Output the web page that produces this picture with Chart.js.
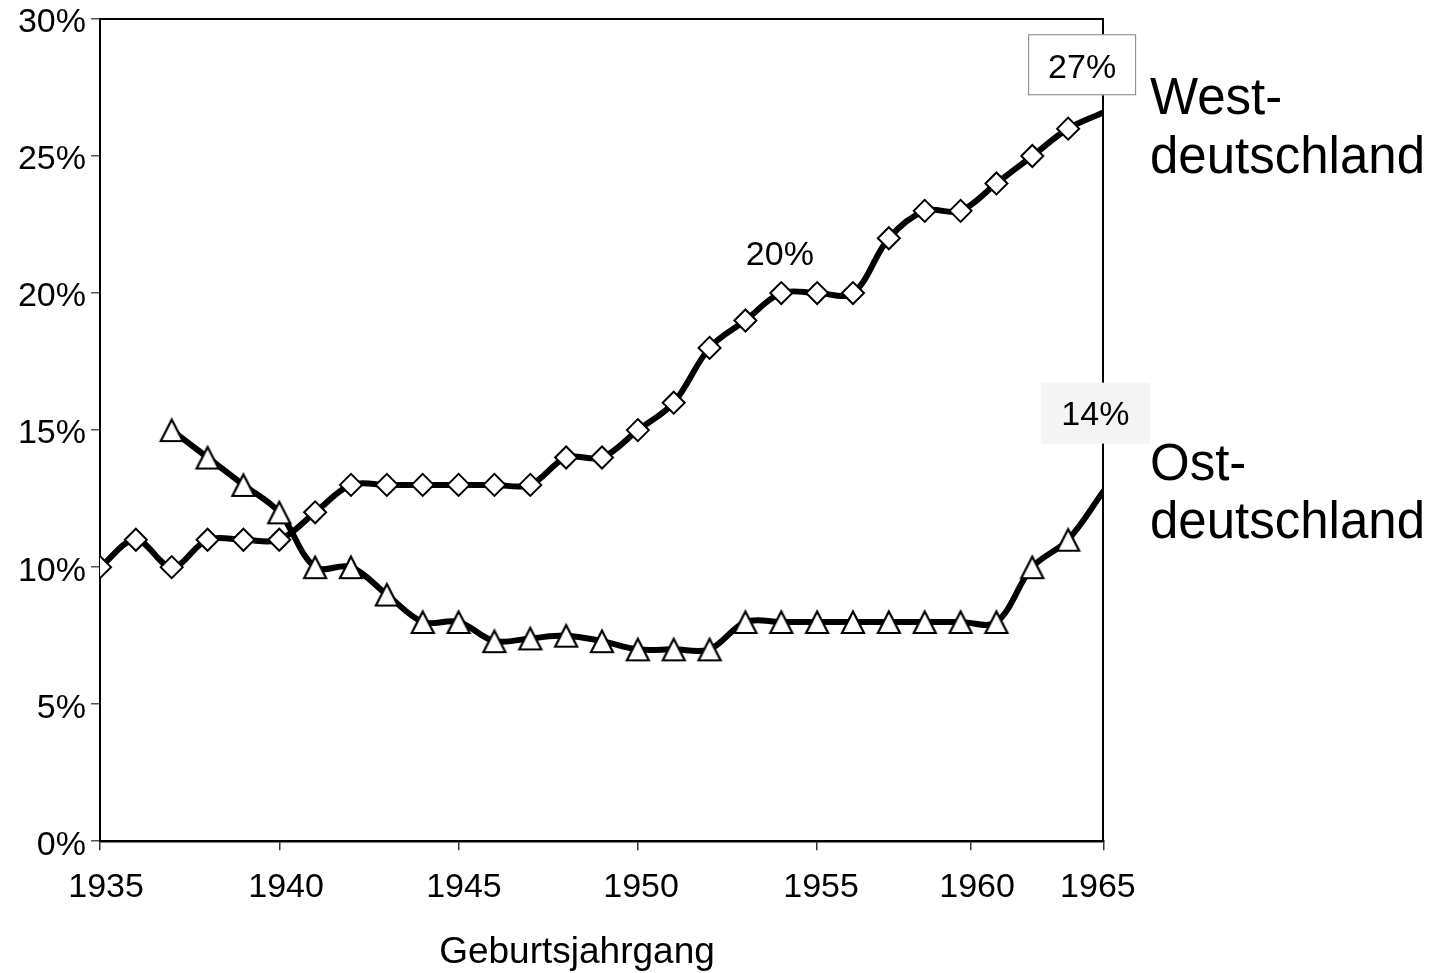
<!DOCTYPE html>
<html>
<head>
<meta charset="utf-8">
<script src="https://cdn.jsdelivr.net/npm/chart.js@4.4.1/dist/chart.umd.min.js"></script>
<style>
html,body{margin:0;padding:0;background:#fff;}
#wrap{width:1440px;height:973px;position:relative;}
canvas{display:block;}
</style>
</head>
<body>
<div id="wrap"><canvas id="c" width="1440" height="973"></canvas></div>
<script>
// ---- data ----
const years = [1935,1936,1937,1938,1939,1940,1941,1942,1943,1944,1945,1946,1947,1948,1949,
               1950,1951,1952,1953,1954,1955,1956,1957,1958,1959,1960,1961,1962,1963];
const west  = [10,11,10,11,11,11,12,13,13,13,13,13,13,14,14,
               15,16,18,19,20,20,20,22,23,23,24,25,26,26.6];
const ost   = [null,null,15,14,13,12,10,10,9,8,8,7.3,7.4,7.5,7.3,
               7,7,7,8,8,8,8,8,8,8,8,10,11,12.8];
const yTickLabels = ['0%','5%','10%','15%','20%','25%','30%'];
const xTickLabels = ['1935','1940','1945','1950','1955','1960','1965'];
const xTickValues = [1935,1940,1945,1950,1955,1959.27,1963];
const xLabelValues = [1935.17,1940.19,1945.15,1950.09,1955.11,1959.46,1962.83];
const seriesNames = ['West-deutschland','Ost-deutschland'];

const FONT = '"Liberation Sans", Arial, sans-serif';
Chart.defaults.font.family = FONT;
Chart.defaults.color = '#000';

function makeTri(){
  const c = document.createElement('canvas');
  c.width = 28; c.height = 28;
  const g = c.getContext('2d');
  g.beginPath();
  g.moveTo(14,3.5); g.lineTo(25,25); g.lineTo(3,25); g.closePath();
  g.fillStyle = '#fff'; g.fill();
  g.lineWidth = 2.2; g.strokeStyle = '#000'; g.lineJoin = 'miter';
  g.stroke();
  return c;
}
const tri = makeTri();
const lastHidden = (n, r) => years.map((_, i) => i === n - 1 ? 0 : r);

const annot = {
  id: 'annot',
  beforeDatasetsDraw(chart){
    const {ctx, chartArea:a} = chart;
    ctx.save();
    ctx.strokeStyle = '#000'; ctx.lineWidth = 2;
    ctx.beginPath();
    ctx.moveTo(a.left, a.top);
    ctx.lineTo(a.right - 1, a.top);
    ctx.lineTo(a.right - 1, a.bottom);
    ctx.stroke();
    ctx.restore();
  },
  afterDraw(chart){
    const {ctx, chartArea:a, scales} = chart;
    const X = v => scales.x.getPixelForValue(v);
    const Y = v => scales.y.getPixelForValue(v);
    ctx.save();
    ctx.fillStyle = '#000';
    ctx.textBaseline = 'alphabetic';
    ctx.textAlign = 'center';
    ctx.font = '34px ' + FONT;
    // 20% label
    ctx.fillText('20%', X(1953.96), Y(21.45) + 12);
    // 27% box
    let cx = X(1962.39), cy = Y(28.33);
    ctx.fillStyle = '#fff';
    ctx.fillRect(cx - 54, cy - 30.5, 108, 61);
    ctx.strokeStyle = '#808080'; ctx.lineWidth = 1;
    ctx.strokeRect(cx - 54 + 0.5, cy - 30.5 + 0.5, 107, 60);
    ctx.fillStyle = '#000';
    ctx.fillText('27%', cx, cy + 13);
    // 14% box
    cx = X(1962.76); cy = Y(15.62);
    ctx.fillStyle = '#f4f4f4';
    ctx.fillRect(cx - 54.5, cy - 30.5, 109, 61);
    ctx.fillStyle = '#000';
    ctx.fillText('14%', cx, cy + 12);
    // series names
    ctx.textAlign = 'left';
    ctx.font = '51px ' + FONT;
    const lx = a.right + 46;
    ctx.fillText('West-', lx, 114);
    ctx.fillText('deutschland', lx, 173);
    ctx.fillText('Ost-', lx, 480);
    ctx.fillText('deutschland', lx, 538);
    // axis title
    ctx.textAlign = 'center';
    ctx.font = '37px ' + FONT;
    ctx.fillText('Geburtsjahrgang', 577, 963);
    ctx.restore();
  }
};

new Chart(document.getElementById('c'), {
  type: 'line',
  data: {
    datasets: [
      {
        label: seriesNames[0],
        data: years.map((yr, i) => ({x: yr, y: west[i]})),
        borderColor: '#000', borderWidth: 6, tension: 0.35,
        pointStyle: 'rectRot',
        pointRadius: lastHidden(years.length, 11),
        pointBackgroundColor: '#fff', pointBorderColor: '#000', pointBorderWidth: 2
      },
      {
        label: seriesNames[1],
        data: years.map((yr, i) => ({x: yr, y: ost[i]})),
        borderColor: '#000', borderWidth: 6, tension: 0.35,
        pointStyle: tri,
        pointRadius: lastHidden(years.length, 12),
        pointBackgroundColor: '#fff', pointBorderColor: '#000'
      }
    ]
  },
  options: {
    responsive: false,
    animation: false,
    events: [],
    devicePixelRatio: 1,
    layout: { padding: { left: 0, top: 19, right: 336, bottom: 48 } },
    plugins: { legend: { display: false }, tooltip: { enabled: false } },
    scales: {
      x: {
        type: 'linear', min: 1935, max: 1963, position: 'bottom',
        afterBuildTicks: s => { s.ticks = xTickValues.map(v => ({value: v})); },
        ticks: { display: false },
        grid: { drawOnChartArea: false, drawTicks: true, tickLength: 9, color: '#333', lineWidth: 1.5 },
        border: { display: true, color: '#000', width: 2.5 }
      },
      x2: {
        type: 'linear', min: 1935, max: 1963, position: 'bottom',
        afterBuildTicks: s => { s.ticks = xLabelValues.map(v => ({value: v})); },
        ticks: {
          callback: (v, i) => xTickLabels[i],
          font: { size: 34, lineHeight: 1.2 }, color: '#000',
          padding: 17, maxRotation: 0, autoSkip: false
        },
        grid: { display: false, drawTicks: false },
        border: { display: false }
      },
      y: {
        min: 0, max: 30, position: 'left',
        afterFit: s => { s.width = 100; },
        ticks: {
          stepSize: 5,
          callback: (v, i) => yTickLabels[i],
          font: { size: 34, lineHeight: 0.8 }, color: '#000',
          padding: 5, labelOffset: 4
        },
        grid: { drawOnChartArea: false, drawTicks: true, tickLength: 9, color: '#555', lineWidth: 1.5 },
        border: { display: true, color: '#000', width: 2 }
      }
    }
  },
  plugins: [annot]
});
</script>
</body>
</html>
